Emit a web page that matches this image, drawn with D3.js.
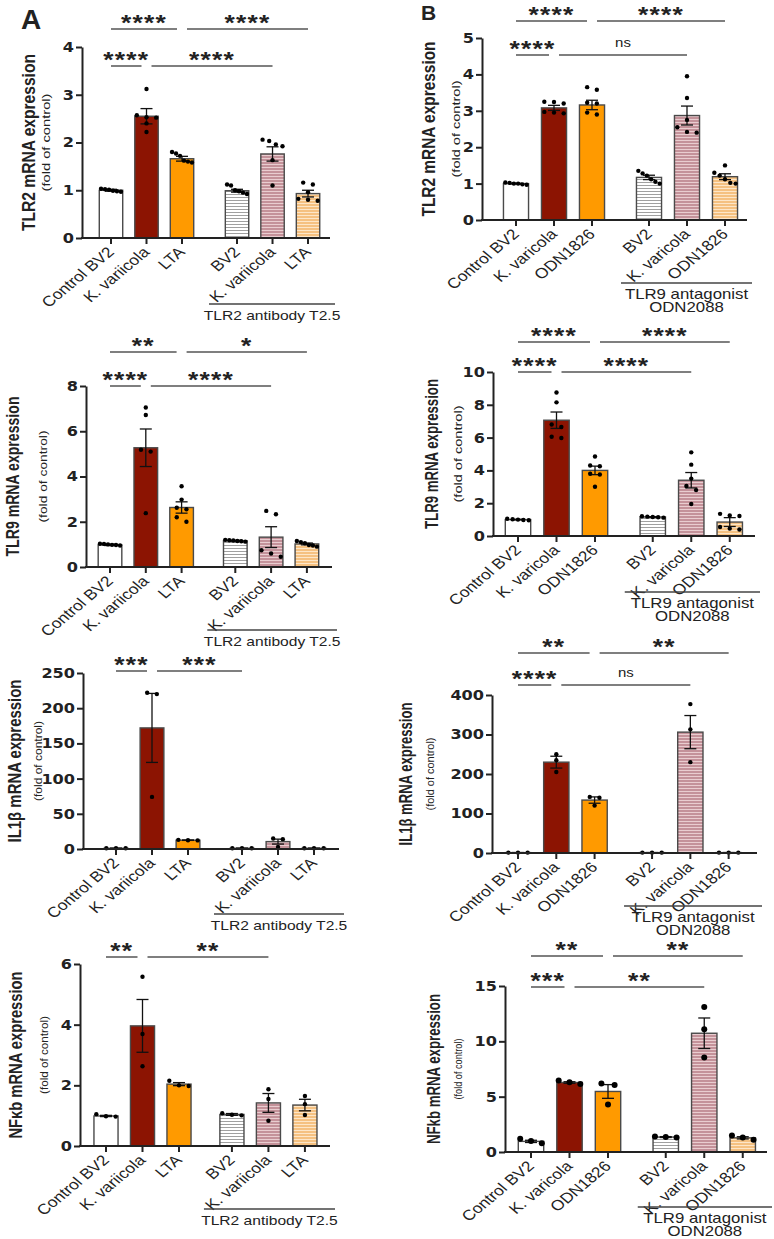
<!DOCTYPE html>
<html lang="en">
<head>
<meta charset="UTF-8">
<title>TLR2 / TLR9 / IL1β / NFκb mRNA expression</title>
<script src="https://d3js.org/d3.v7.min.js"></script>
<style>
  body { margin: 0; background: #fff; }
  svg text { font-family: "Liberation Sans", Arial, sans-serif; fill: #222; }
</style>
</head>
<body>
<div id="chart"></div>
<script>
// ---- categories ----
const groupsA = ["Control BV2", "K. variicola", "LTA", "BV2", "K. variicola", "LTA"];
const groupsB = ["Control BV2", "K. varicola", "ODN1826", "BV2", "K. varicola", "ODN1826"];
const treatA = ["TLR2 antibody T2.5"];
const treatB = ["TLR9 antagonist", "ODN2088"];

// ---- panel A: TLR2 antibody ----
const tlr2A_mean = [1.00, 2.55, 1.66, 0.99, 1.76, 0.93];
const tlr2A_sem  = [0.02, 0.16, 0.05, 0.03, 0.15, 0.07];
const tlr2A_pts  = [[1.03, 1.01, 0.99, 1.02, 0.97, 0.98], [3.12, 2.57, 2.53, 2.52, 2.40, 2.22],
                    [1.80, 1.77, 1.72, 1.62, 1.60, 1.58], [1.12, 1.10, 1.00, 0.95, 0.92, 0.98],
                    [2.06, 2.03, 1.96, 1.92, 1.63, 1.10], [1.16, 1.12, 0.96, 0.82, 0.80, 0.78]];
const tlr2A_ticks = [0, 1, 2, 3, 4];

const tlr9A_mean = [0.98, 5.27, 2.63, 1.16, 1.32, 1.02];
const tlr9A_sem  = [0.03, 0.83, 0.25, 0.02, 0.46, 0.04];
const tlr9A_pts  = [[1.02, 1.00, 0.98, 0.95, 1.03, 0.97], [7.05, 6.72, 5.18, 5.10, 2.38],
                    [3.57, 2.98, 2.62, 2.55, 2.20, 2.00], [1.20, 1.18, 1.17, 1.15, 1.12, 1.14],
                    [2.48, 2.33, 0.74, 0.60, 0.45], [1.15, 1.10, 1.05, 0.95, 0.90, 0.97]];
const tlr9A_ticks = [0, 2, 4, 6, 8];

const il1bA_mean = [1.0, 172, 12.5, 1.0, 10.5, 1.0];
const il1bA_sem  = [0.1, 49, 0.3, 0.1, 3.5, 0.1];
const il1bA_pts  = [[1, 1, 1], [222, 220, 74], [13, 12.5, 12.2], [1, 1, 1], [15, 14, 3], [1, 1, 1]];
const il1bA_ticks = [0, 50, 100, 150, 200, 250];

const nfkbA_mean = [0.99, 3.96, 2.04, 1.04, 1.42, 1.35];
const nfkbA_sem  = [0.02, 0.87, 0.05, 0.03, 0.31, 0.19];
const nfkbA_pts  = [[0.97, 1.05, 0.98], [5.58, 3.69, 2.63], [2.15, 2.00, 1.98],
                    [1.08, 1.03, 1.01], [1.87, 1.55, 0.83], [1.65, 1.38, 1.02]];
const nfkbA_ticks = [0, 2, 4, 6];

// ---- panel B: TLR9 antagonist ----
const tlr2B_mean = [1.00, 3.08, 3.16, 1.17, 2.87, 1.19];
const tlr2B_sem  = [0.01, 0.07, 0.13, 0.06, 0.26, 0.08];
const tlr2B_pts  = [[1.03, 1.02, 1.00, 0.98, 0.97, 1.00], [3.25, 3.24, 3.20, 2.95, 2.93, 2.97],
                    [3.65, 3.58, 3.22, 3.20, 2.95, 2.90], [1.35, 1.28, 1.22, 1.12, 1.05, 1.00],
                    [3.95, 3.35, 2.75, 2.55, 2.42, 2.40], [1.50, 1.30, 1.22, 1.12, 1.02, 1.00]];
const tlr2B_ticks = [0, 1, 2, 3, 4, 5];

const tlr9B_mean = [1.00, 7.06, 4.00, 1.16, 3.40, 0.85];
const tlr9B_sem  = [0.02, 0.50, 0.26, 0.02, 0.47, 0.27];
const tlr9B_pts  = [[1.05, 1.02, 1.00, 0.98, 0.96], [8.75, 8.15, 6.80, 6.65, 6.05, 5.98],
                    [4.85, 4.30, 4.25, 3.80, 3.75, 3.00], [1.20, 1.18, 1.16, 1.14, 1.12],
                    [5.10, 4.35, 3.50, 3.05, 2.80, 1.95], [1.35, 1.25, 1.22, 0.55, 0.45, 0.40]];
const tlr9B_ticks = [0, 2, 4, 6, 8, 10];

const il1bB_mean = [1, 230, 134, 1, 306, 1];
const il1bB_sem  = [0.1, 15, 8, 0.1, 42, 0.1];
const il1bB_pts  = [[1, 1, 1], [250, 235, 205], [142, 140, 120], [1, 1, 1], [377, 313, 230], [1, 1, 1]];
const il1bB_ticks = [0, 100, 200, 300, 400];

const nfkbB_mean = [0.96, 6.28, 5.47, 1.35, 10.73, 1.28];
const nfkbB_sem  = [0.10, 0.07, 0.62, 0.04, 1.38, 0.10];
const nfkbB_pts  = [[1.2, 1.0, 0.8], [6.45, 6.30, 6.15], [6.20, 6.05, 4.30],
                    [1.40, 1.35, 1.30], [13.1, 11.1, 8.55], [1.50, 1.30, 1.10]];
const nfkbB_ticks = [0, 5, 10, 15];

// significance: [from, to, label]
const sigUp_tlr2A = [[0, 2, "****"], [2, 5, "****"]];
const sigLo_tlr2A = [[0, 1, "****"], [1, 4, "****"]];
const sigUp_tlr9A = [[0, 2, "**"], [2, 5, "*"]];
const sigLo_tlr9A = [[0, 1, "****"], [1, 4, "****"]];
const sigLo_il1bA = [[0, 1, "***"], [1, 3, "***"]];
const sigLo_nfkbA = [[0, 1, "**"], [1, 4, "**"]];
const sigUp_tlr2B = [[0, 2, "****"], [2, 5, "****"]];
const sigLo_tlr2B = [[0, 1, "****"], [1, 4, "ns"]];
const sigUp_tlr9B = [[0, 2, "****"], [2, 5, "****"]];
const sigLo_tlr9B = [[0, 1, "****"], [1, 4, "****"]];
const sigUp_il1bB = [[0, 2, "**"], [2, 5, "**"]];
const sigLo_il1bB = [[0, 1, "****"], [1, 4, "ns"]];
const sigUp_nfkbB = [[0, 2, "**"], [2, 5, "**"]];
const sigLo_nfkbB = [[0, 1, "***"], [1, 4, "**"]];

const SX = 1.2; // source figure is stretched sideways a bit

const svg = d3.select("#chart").append("svg")
    .attr("width", 774)
    .attr("height", 1239);

const defs = svg.append("defs");
function stripe(id, base, line) {
    const pat = defs.append("pattern").attr("id", id)
        .attr("patternUnits", "userSpaceOnUse").attr("width", 6).attr("height", 3);
    pat.append("rect").attr("width", 6).attr("height", 3).attr("fill", base);
    pat.append("rect").attr("y", 2).attr("width", 6).attr("height", 1).attr("fill", line);
}
stripe("stGray", "#ffffff", "#a0a0a0");
stripe("stPink", "#c4929a", "#e9cdd0");
stripe("stPeach", "#f5c181", "#fde6c8");

const fills = ["#ffffff", "#8c1402", "#ff9a00", "url(#stGray)", "url(#stPink)", "url(#stPeach)"];

const panels = [
    { groups: groupsA, mean: tlr2A_mean, sem: tlr2A_sem, pts: tlr2A_pts, ticks: tlr2A_ticks,
      up: sigUp_tlr2A, lo: sigLo_tlr2A, treat: treatA, label: "TLR2 mRNA expression",
      xL: 82, xR: 330, yTop: 47, yBot: 238, c0: 111, step: 35.5, gap: 0.55,
      upY: 29, loY: 66, brY: 304, labX: 35, labLen: 177, subX: 50, subLen: 98, r: 2.2 },
    { groups: groupsA, mean: tlr9A_mean, sem: tlr9A_sem, pts: tlr9A_pts, ticks: tlr9A_ticks,
      up: sigUp_tlr9A, lo: sigLo_tlr9A, treat: treatA, label: "TLR9 mRNA expression",
      xL: 86, xR: 332, yTop: 386, yBot: 567, c0: 110, step: 35.8, gap: 0.5,
      upY: 352, loY: 386, brY: 630, labX: 19, labLen: 160, subX: 47, subLen: 92, r: 2.2 },
    { groups: groupsA, mean: il1bA_mean, sem: il1bA_sem, pts: il1bA_pts, ticks: il1bA_ticks,
      up: [], lo: sigLo_il1bA, treat: treatA, label: "IL1β mRNA expression",
      xL: 83, xR: 339, yTop: 673, yBot: 849, c0: 116, step: 36, gap: 0.5,
      upY: 0, loY: 671, brY: 914, labX: 21, labLen: 163, subX: 42, subLen: 80, r: 2.2 },
    { groups: groupsA, mean: nfkbA_mean, sem: nfkbA_sem, pts: nfkbA_pts, ticks: nfkbA_ticks,
      up: [], lo: sigLo_nfkbA, treat: treatA, label: "NFκb mRNA expression",
      xL: 80, xR: 330, yTop: 964, yBot: 1146, c0: 106, step: 36.5, gap: 0.45,
      upY: 0, loY: 957, brY: 1209, labX: 22, labLen: 167, subX: 48, subLen: 78, r: 2.2 },
    { groups: groupsB, mean: tlr2B_mean, sem: tlr2B_sem, pts: tlr2B_pts, ticks: tlr2B_ticks,
      up: sigUp_tlr2B, lo: sigLo_tlr2B, treat: treatB, label: "TLR2 mRNA expression",
      xL: 482, xR: 747, yTop: 38, yBot: 220, c0: 516, step: 38, gap: 0.5,
      upY: 21, loY: 55, brY: 283, labX: 435, labLen: 175, subX: 460, subLen: 97, r: 2.2 },
    { groups: groupsB, mean: tlr9B_mean, sem: tlr9B_sem, pts: tlr9B_pts, ticks: tlr9B_ticks,
      up: sigUp_tlr9B, lo: sigLo_tlr9B, treat: treatB, label: "TLR9 mRNA expression",
      xL: 493, xR: 755, yTop: 372, yBot: 536, c0: 518, step: 38.5, gap: 0.5,
      upY: 342, loY: 372, brY: 592, labX: 438, labLen: 150, subX: 462, subLen: 97, r: 2.2 },
    { groups: groupsB, mean: il1bB_mean, sem: il1bB_sem, pts: il1bB_pts, ticks: il1bB_ticks,
      up: sigUp_il1bB, lo: sigLo_il1bB, treat: treatB, label: "IL1β mRNA expression",
      xL: 492, xR: 757, yTop: 695, yBot: 853, c0: 518, step: 38.3, gap: 0.5,
      upY: 653, loY: 685, brY: 906, labX: 412, labLen: 143, subX: 434, subLen: 73, r: 2.2 },
    { groups: groupsB, mean: nfkbB_mean, sem: nfkbB_sem, pts: nfkbB_pts, ticks: nfkbB_ticks,
      up: sigUp_nfkbB, lo: sigLo_nfkbB, treat: treatB, label: "NFkb mRNA expression",
      xL: 505, xR: 767, yTop: 986, yBot: 1152, c0: 531, step: 38.5, gap: 0.5,
      upY: 956, loY: 987, brY: 1207, labX: 440, labLen: 150, subX: 462, subLen: 61, r: 3 }
];

// spread dots that sit close together side by side, like a scatter dot plot
function dotOffsets(vals, y, r, bw) {
    const idx = vals.map((v, i) => i).sort((a, b) => y(vals[a]) - y(vals[b]));
    const off = new Array(vals.length).fill(0);
    let cluster = [idx[0]];
    const flush = () => {
        const m = cluster.length;
        if (m > 1) {
            const sp = Math.min(bw * 0.85 / (m - 1), r * 4.4);
            cluster.forEach((k, j) => off[k] = (j - (m - 1) / 2) * sp);
        }
    };
    for (let j = 1; j < idx.length; j++) {
        if (Math.abs(y(vals[idx[j]]) - y(vals[cluster[cluster.length - 1]])) < r * 2.2) {
            cluster.push(idx[j]);
        } else {
            flush();
            cluster = [idx[j]];
        }
    }
    flush();
    return off;
}

function drawPanel(p) {
    const g = svg.append("g");
    const y = d3.scaleLinear().domain([0, d3.max(p.ticks)]).range([p.yBot, p.yTop]);
    const x = d3.scaleLinear().domain([0, 1]).range([p.c0, p.c0 + p.step]);
    const cx = i => x(i + (i >= 3 ? p.gap : 0));
    const bw = p.step * 0.66;

    // bars
    g.selectAll("rect.bar").data(p.mean).join("rect")
        .attr("class", "bar")
        .attr("x", (d, i) => cx(i) - bw / 2)
        .attr("y", d => y(d))
        .attr("width", bw)
        .attr("height", d => p.yBot - y(d))
        .attr("fill", (d, i) => fills[i])
        .attr("stroke", "#4a4a4a")
        .attr("stroke-width", 1.4);

    // error bars (mean ± SEM)
    const eb = g.selectAll("g.eb").data(p.mean).join("g").attr("class", "eb")
        .attr("stroke", "#111").attr("stroke-width", 1.3);
    eb.append("line")
        .attr("x1", (d, i) => cx(i)).attr("x2", (d, i) => cx(i))
        .attr("y1", (d, i) => y(d - p.sem[i])).attr("y2", (d, i) => y(d + p.sem[i]));
    [1, -1].forEach(s => {
        eb.append("line")
            .attr("x1", (d, i) => cx(i) - 6).attr("x2", (d, i) => cx(i) + 6)
            .attr("y1", (d, i) => y(d + s * p.sem[i])).attr("y2", (d, i) => y(d + s * p.sem[i]));
    });

    // individual points
    p.pts.forEach((vals, i) => {
        const off = dotOffsets(vals, y, p.r, bw);
        g.selectAll(null).data(vals).join("circle")
            .attr("cx", (d, k) => cx(i) + off[k])
            .attr("cy", d => y(d))
            .attr("r", p.r)
            .attr("fill", "#000");
    });

    // y axis
    const ya = g.append("g").attr("transform", `translate(${p.xL},0)`)
        .call(d3.axisLeft(y).tickValues(p.ticks).tickFormat(d3.format("d"))
            .tickSize(6).tickSizeOuter(0));
    ya.select(".domain").attr("stroke", "#222").attr("stroke-width", 2);
    ya.selectAll(".tick line").attr("stroke", "#222").attr("stroke-width", 2);
    ya.selectAll(".tick text")
        .attr("x", -8 / 1.15)
        .attr("transform", "scale(1.15,1)")
        .style("font-family", "'DejaVu Sans', sans-serif")
        .style("font-weight", "bold")
        .style("font-size", "14px")
        .attr("fill", "#222");

    // x axis
    g.append("line")
        .attr("x1", p.xL - 1).attr("x2", p.xR)
        .attr("y1", p.yBot).attr("y2", p.yBot)
        .attr("stroke", "#222").attr("stroke-width", 2);
    g.selectAll("line.xt").data(p.groups).join("line")
        .attr("x1", (d, i) => cx(i)).attr("x2", (d, i) => cx(i))
        .attr("y1", p.yBot).attr("y2", p.yBot + 6)
        .attr("stroke", "#222").attr("stroke-width", 2);
    g.selectAll("text.xl").data(p.groups).join("text")
        .attr("transform", (d, i) => `translate(${cx(i) + 4},${p.yBot + 15}) scale(${SX},1) rotate(-45)`)
        .attr("text-anchor", "end")
        .attr("font-size", 14.5)
        .attr("fill", "#333")
        .text(d => d);

    // y label
    const cy = (p.yTop + p.yBot) / 2;
    g.append("text")
        .attr("transform", `translate(${p.labX},${cy}) rotate(-90)`)
        .attr("text-anchor", "middle")
        .attr("font-size", 19).attr("font-weight", "bold").attr("fill", "#111")
        .attr("textLength", p.labLen).attr("lengthAdjust", "spacingAndGlyphs")
        .text(p.label);
    g.append("text")
        .attr("transform", `translate(${p.subX},${cy}) rotate(-90)`)
        .attr("text-anchor", "middle")
        .attr("font-size", 11.5)
        .attr("textLength", p.subLen).attr("lengthAdjust", "spacingAndGlyphs")
        .attr("fill", "#444")
        .text("(fold of control)");

    // significance lines
    const sig = (list, ly) => list.forEach(([a, b, lab]) => {
        const x1 = cx(a) + (a === 0 ? 0 : 5);
        const x2 = cx(b) - (b <= 2 ? 5 : 0);
        g.append("line").attr("x1", x1).attr("x2", x2).attr("y1", ly).attr("y2", ly)
            .attr("stroke", "#555").attr("stroke-width", 1.5);
        const t = g.append("text")
            .attr("text-anchor", "middle")
            .attr("transform", `translate(${(x1 + x2) / 2},${lab === "ns" ? ly - 8 : ly + 0.5}) scale(${SX},1)`)
            .text(lab);
        if (lab === "ns") t.attr("font-size", 12.5).attr("fill", "#333");
        else t.attr("font-size", 22).attr("font-weight", "bold").attr("fill", "#111")
            .attr("letter-spacing", 1);
    });
    sig(p.up, p.upY);
    sig(p.lo, p.loY);

    // treatment bracket
    const bx1 = cx(3) - 28, bx2 = p.xR + 5;
    g.append("line").attr("x1", bx1).attr("x2", bx2).attr("y1", p.brY).attr("y2", p.brY)
        .attr("stroke", "#444").attr("stroke-width", 1.5);
    p.treat.forEach((t, k) => {
        g.append("text")
            .attr("text-anchor", "middle")
            .attr("transform", `translate(${(bx1 + bx2) / 2},${p.brY + 16 + k * 13}) scale(${SX},1)`)
            .attr("font-size", p.treat.length > 1 ? 14 : 13)
            .text(t);
    });
}

panels.forEach(drawPanel);

// panel letters
svg.append("text").attr("x", 21).attr("y", 29)
    .attr("font-size", 28).attr("font-weight", "bold").attr("fill", "#000").text("A");
svg.append("text").attr("x", 421).attr("y", 20)
    .attr("font-size", 21).attr("font-weight", "bold").attr("fill", "#000").text("B");
</script>
</body>
</html>
